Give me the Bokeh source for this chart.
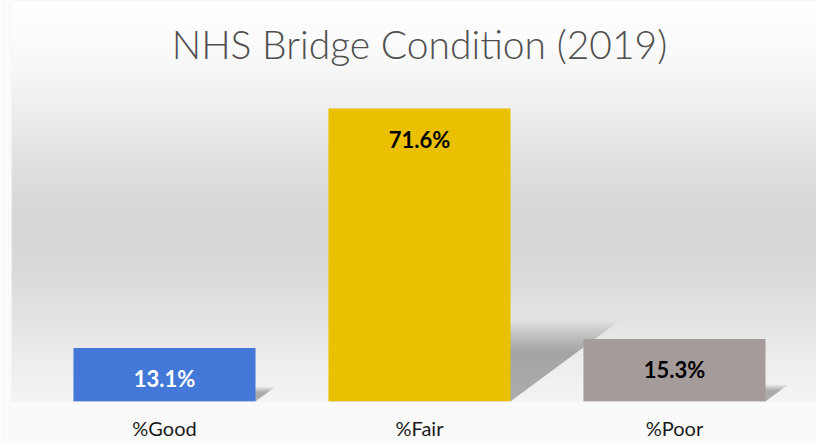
import numpy as np
from bokeh.plotting import figure
from bokeh.models import Range1d, FixedTicker, Label, ColumnDataSource
from bokeh.core.properties import value
from bokeh.embed import file_html
from bokeh.resources import INLINE

# ---- data ----
categories = ["%Good", "%Fair", "%Poor"]
percent = [13.1, 71.6, 15.3]
value_labels = ["13.1%", "71.6%", "15.3%"]
bar_colors = ["#4478d8", "#eac000", "#a59b9a"]
label_colors = ["#ffffff", "#000000", "#000000"]
title_text = "NHS Bridge Condition (2019)"

# ---- layout ----
W, H = 816, 443
FRAME_H = 401
PX_PER_UNIT = 4.092
x_start, x_end = -0.6, 2.557
y_start, y_end = 0.0, FRAME_H / PX_PER_UNIT
bar_width = 0.714
xs = list(range(len(categories)))

p = figure(width=W, height=H, output_backend="svg", toolbar_location=None,
           x_range=Range1d(x_start, x_end), y_range=Range1d(y_start, y_end),
           y_axis_location=None, min_border_left=11, min_border_right=0,
           min_border_top=0, min_border_bottom=H - FRAME_H)
p.outline_line_color = None
p.xgrid.grid_line_color = None
p.ygrid.grid_line_color = None
p.border_fill_color = "#fafafa"
p.background_fill_color = "#f0f0f0"

# ---- background vertical gradient (style only) ----
stops_screen_y = [0, 8, 40, 70, 110, 160, 210, 240, 280, 320, 360, 401]
stops_level = [255, 254, 252, 247, 238, 225, 216, 215, 220, 228, 237, 245]
rows = np.arange(FRAME_H)  # row 0 = bottom
screen_y = FRAME_H - rows - 0.5
lvl = np.interp(screen_y, stops_screen_y, stops_level).astype(np.uint32)
img = np.empty((FRAME_H, 2), dtype=np.uint32)
view = img.view(dtype=np.uint8).reshape((FRAME_H, 2, 4))
view[:, :, 0] = lvl[:, None]
view[:, :, 1] = lvl[:, None]
view[:, :, 2] = lvl[:, None]
view[:, :, 3] = 255
p.image_rgba(image=[img], x=x_start, y=y_start, dw=x_end - x_start, dh=y_end - y_start)

# ---- soft perspective shadows (derived from data) ----
shadow_xs, shadow_ys = [], []
for xc, v in zip(xs, percent):
    h = 0.24 * v
    dx = 0.0052 * v
    for s in np.linspace(0.72, 1.15, 16):
        shadow_xs.append([xc - bar_width / 2, xc + bar_width / 2,
                          xc + bar_width / 2 + dx * s, xc - bar_width / 2 + dx * s])
        shadow_ys.append([0, 0, h * s, h * s])
p.patches(shadow_xs, shadow_ys, fill_color="black", fill_alpha=0.02, line_color=None)

# ---- bars ----
src = ColumnDataSource(dict(x=xs, top=percent, color=bar_colors,
                            label=value_labels, lcolor=label_colors))
p.vbar(x="x", top="top", bottom=0, width=bar_width, fill_color="color",
       line_color=None, source=src)

p.text(x="x", y="top", text="label", source=src, y_offset=31,
       text_align="center", text_baseline="middle", text_color="lcolor",
       text_font=value("Lato"), text_font_style="bold", text_font_size="22px")

# ---- title ----
p.add_layout(Label(x=1, y=FRAME_H - 43, y_units="screen", text=title_text,
                   text_align="center", text_baseline="middle",
                   text_font="Lato Light", text_font_size="39px", text_color="#505050"))

# ---- category axis ----
p.xaxis.ticker = FixedTicker(ticks=xs)
p.xaxis.major_label_overrides = {i: c for i, c in zip(xs, categories)}
p.xaxis.major_label_text_font = "Lato"
p.xaxis.major_label_text_font_size = "20px"
p.xaxis.major_label_text_color = "#1a1a1a"
p.xaxis.major_label_standoff = 14
p.xaxis.major_tick_out = 0
p.xaxis.major_tick_in = 0
p.xaxis.axis_line_color = None
p.xaxis.major_tick_line_color = None
p.xaxis.minor_tick_line_color = None

open("out.html", "w").write(file_html(p, INLINE))
